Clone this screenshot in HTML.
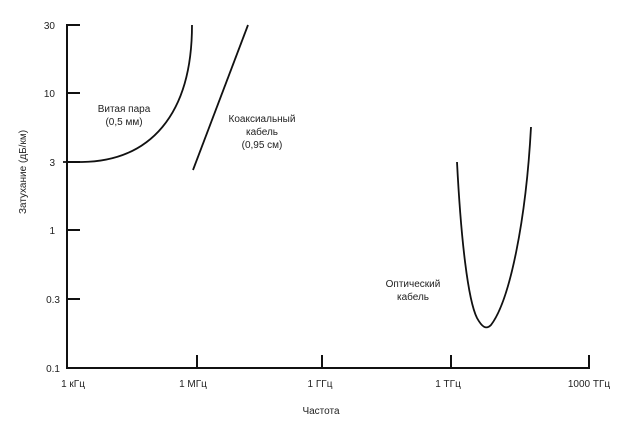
<!DOCTYPE html>
<html><head><meta charset="utf-8"><style>
html,body{margin:0;padding:0;background:#fff;}
svg{display:block;}
text{font-family:"Liberation Sans","DejaVu Sans",sans-serif;font-size:10px;fill:#222;}
</style></head><body>
<svg width="623" height="431" viewBox="0 0 623 431">
<g stroke="#111" stroke-width="2" fill="none">
<line x1="67" y1="24" x2="67" y2="369"/>
<line x1="66" y1="368" x2="590" y2="368"/>
<line x1="67" y1="25" x2="80" y2="25"/>
<line x1="67" y1="93" x2="80" y2="93"/>
<line x1="67" y1="162" x2="80" y2="162"/>
<line x1="67" y1="230" x2="80" y2="230"/>
<line x1="67" y1="299" x2="80" y2="299"/>
<line x1="197" y1="355" x2="197" y2="368"/>
<line x1="322" y1="355" x2="322" y2="368"/>
<line x1="451" y1="355" x2="451" y2="368"/>
<line x1="589" y1="355" x2="589" y2="368"/>
</g>
<g stroke="#111" stroke-width="1.8" fill="none">
<path d="M63,162 L82,162 C150,161 192,115 192,25"/>
<line x1="193" y1="170" x2="248" y2="25"/>
<path d="M457,162 C461,240 468,300 477,318 C482,327 486,330 491,325 C510,300 526,220 531,127"/>
</g>
<g text-anchor="end">
<text x="55" y="29">30</text>
<text x="55" y="97">10</text>
<text x="55" y="166">3</text>
<text x="55" y="234">1</text>
<text x="60" y="303">0.3</text>
<text x="60" y="372">0.1</text>
</g>
<g text-anchor="middle">
<text x="73" y="387">1 кГц</text>
<text x="193" y="387">1 МГц</text>
<text x="320" y="387">1 ГГц</text>
<text x="448" y="387">1 ТГц</text>
<text x="589" y="387">1000 ТГц</text>
<text x="321" y="414">Частота</text>
<text x="124" y="112">Витая пара</text>
<text x="124" y="125">(0,5 мм)</text>
<text x="262" y="122">Коаксиальный</text>
<text x="262" y="135">кабель</text>
<text x="262" y="148">(0,95 см)</text>
<text x="413" y="287">Оптический</text>
<text x="413" y="300">кабель</text>
<text transform="translate(26,172) rotate(-90)">Затухание (дБ/км)</text>
</g>
</svg>
</body></html>
